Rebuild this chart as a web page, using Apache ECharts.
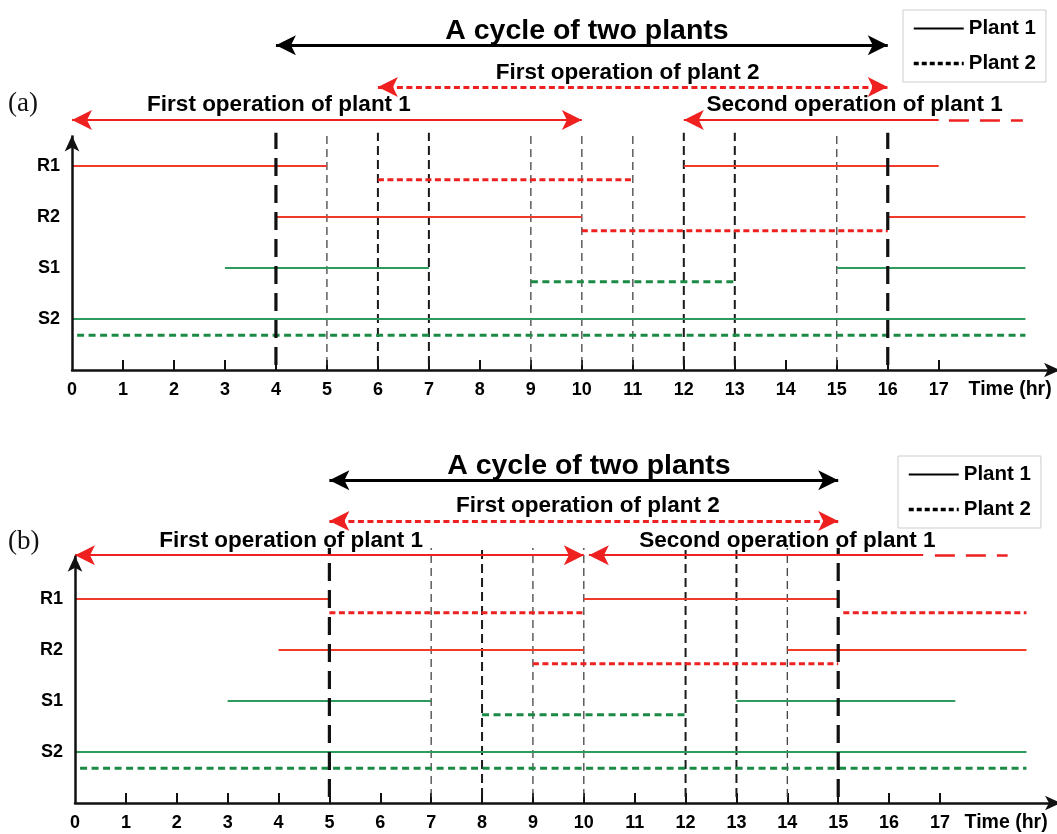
<!DOCTYPE html>
<html>
<head>
<meta charset="utf-8">
<script src="https://cdn.jsdelivr.net/npm/echarts@6/dist/echarts.min.js"></script>
<style>html,body{margin:0;padding:0;background:#fff}#c{width:1057px;height:834px}</style>
</head>
<body>
<div id="c"></div>
<script>
// ---------------- data ----------------
const tickLabels = [0,1,2,3,4,5,6,7,8,9,10,11,12,13,14,15,16,17];
const rowNames = ['S2','S1','R2','R1'];            // bottom -> top
const titleText = 'A cycle of two plants';
const op2Text = 'First operation of plant 2';
const op1Text = 'First operation of plant 1';
const op1SecondText = 'Second operation of plant 1';
const timeText = 'Time (hr)';
const legendNames = ['Plant 1','Plant 2'];

// panel (a)
const aPlant1 = [['R1',0,5],['R1',12,17],['R2',4,10],['R2',16,18.7],['S1',3,7],['S1',15,18.7],['S2',0,18.7]];
const aPlant2 = [['R1',6,11],['R2',10,16],['S1',9,13],['S2',0.1,18.7]];
const aVertHeavy = [4,16];
const aVertMedium = [6,7,12,13];
const aVertThin = [5,9,10,11,15];
const aCycle = [4,16];
const aOp2 = [6,16];
const aOp1 = [0,10];
const aOp1Second = [12,17];
const aOp1SecondCont = [17.2,18.65];

// panel (b)
const bPlant1 = [['R1',0,5],['R1',10,15],['R2',4,10],['R2',14,18.7],['S1',3,7],['S1',13,17.3],['S2',0,18.7]];
const bPlant2 = [['R1',5,10],['R1',15.1,18.7],['R2',9,15],['S1',8,12],['S2',0.1,18.7]];
const bVertHeavy = [5,15];
const bVertMedium = [8,12,13];
const bVertThin = [7,9,10,14];
const bCycle = [5,15];
const bOp2 = [5,15];
const bOp1 = [0,10];
const bOp1Second = [10.1,16.67];
const bOp1SecondCont = [16.9,18.33];

// ---------------- layout / style ----------------
const FONT = '"Liberation Sans", Arial, sans-serif';
const INK = '#000';
const RED = '#f03a2a', RED2 = '#ee2020', GREEN = '#2e9a5e', GREEN2 = '#1b8a45';
const XMAX = 19.3;
const panels = [
  {label:'(a)', labelTop:90, left:72, right:1, top:10, bottom:464,
   p1:aPlant1, p2:aPlant2, heavy:aVertHeavy, medium:aVertMedium, thin:aVertThin,
   cycle:aCycle, op2:aOp2, op1:aOp1, op1s:aOp1Second, op1c:aOp1SecondCont,
   yTitle:6.65, yCycle:6.37, yOp2T:5.83, yOp2:5.55, yOp1T:5.2, yOp1:4.9, yAxisTop:4.6, vTop:4.65, vBot:0.1,
   xTitle:10.1, xOp2T:10.9, xOp1T:4.06, xOp1sT:15.35, xTime:18.4,
   legend:{left:903, top:10}},
  {label:'(b)', labelTop:528, left:75, right:0, top:450, bottom:31,
   p1:bPlant1, p2:bPlant2, heavy:bVertHeavy, medium:bVertMedium, thin:bVertThin,
   cycle:bCycle, op2:bOp2, op1:bOp1, op1s:bOp1Second, op1c:bOp1SecondCont,
   yTitle:6.61, yCycle:6.33, yOp2T:5.83, yOp2:5.53, yOp1T:5.14, yOp1:4.86, yAxisTop:4.85, vTop:5.0, vBot:0.12,
   xTitle:10.1, xOp2T:10.08, xOp1T:4.25, xOp1sT:14.0, xTime:18.3,
   legend:{left:898, top:456}}
];

const H = 834;
const grids = [], xAxes = [], yAxes = [], series = [], legends = [], graphics = [];

function rowY(name){ return rowNames.indexOf(name) + 1; }

panels.forEach((p, i) => {
  const height = H - p.top - p.bottom;
  const ymax = height / 51;
  grids.push({left:p.left, right:p.right, top:p.top, bottom:p.bottom, containLabel:false});
  xAxes.push({
    type:'value', gridIndex:i, min:0, max:XMAX, interval:1,
    axisLine:{show:true, lineStyle:{color:'#111', width:2.5}, symbol:['none','arrow'], symbolSize:[11,16], symbolOffset:[0,4]},
    axisTick:{show:true, inside:true, length:10, lineStyle:{color:'#111', width:2}, customValues:tickLabels.slice(1)},
    axisLabel:{show:true, customValues:tickLabels, margin:11, color:INK, fontFamily:FONT, fontWeight:'bold', fontSize:18,
               formatter:v => String(v)},
    splitLine:{show:false}
  });
  yAxes.push({
    type:'value', gridIndex:i, min:0, max:ymax, interval:1,
    axisLine:{show:false}, axisTick:{show:false}, splitLine:{show:false},
    axisLabel:{show:true, margin:12, color:INK, fontFamily:FONT, fontWeight:'bold', fontSize:18,
               formatter:v => (Math.abs(v - Math.round(v)) < 1e-6 && rowNames[Math.round(v)-1]) ? rowNames[Math.round(v)-1] : ''}
  });

  const base = {xAxisIndex:i, yAxisIndex:i, type:'line', symbol:'none', silent:true, animation:false, clip:false, z:3};

  // vertical guide lines
  const vert = (xs, style, z) => xs.forEach(x => series.push(Object.assign({}, base, {
    z, data:[[x,p.vBot],[x,p.vTop]], lineStyle:style})));
  vert(p.thin, {color:'#444', width:1.3, type:[8,5]}, 2);
  vert(p.medium, {color:'#1a1a1a', width:2, type:[9,5]}, 2);
  vert(p.heavy, {color:'#111', width:3.2, type:[18,9]}, 4);

  // segments
  p.p1.forEach(s => {
    const c = (s[0][0]==='R') ? RED : GREEN;
    series.push(Object.assign({}, base, {data:[[s[1],rowY(s[0])],[s[2],rowY(s[0])]],
      lineStyle:{color:c, width:2, type:'solid'}}));
  });
  p.p2.forEach(s => {
    const c = (s[0][0]==='R') ? RED2 : GREEN2;
    const off = s[0]==='S2' ? 0.32 : 0.27;
    series.push(Object.assign({}, base, {data:[[s[1],rowY(s[0])-off],[s[2],rowY(s[0])-off]],
      lineStyle:{color:c, width:3, type:(s[0][0]==='R') ? [6,3.5] : [7,4.5]}}));
  });

  // arrows via markLine
  const ml = (x1, x2, y, style, sym, ssize) => ({
    silent:true, animation:false, symbol:sym, symbolSize:ssize,
    label:{show:false}, emphasis:{disabled:true},
    lineStyle:style, data:[[{coord:[x1,y]},{coord:[x2,y]}]]
  });
  const arrowSeries = (m) => series.push(Object.assign({}, base, {data:[], markLine:m}));
  arrowSeries(ml(p.cycle[0], p.cycle[1], p.yCycle, {color:'#000', width:3, type:'solid'}, ['arrow','arrow'], [15,20]));
  arrowSeries(ml(p.op2[0], p.op2[1], p.yOp2, {color:RED2, width:3, type:[6,3.5]}, ['arrow','arrow'], [15,20]));
  arrowSeries(ml(p.op1[0], p.op1[1], p.yOp1, {color:RED2, width:2.2, type:'solid'}, ['arrow','arrow'], [15,20]));
  arrowSeries(ml(p.op1s[0], p.op1s[1], p.yOp1, {color:RED2, width:2.2, type:'solid'}, ['arrow','none'], [15,20]));
  arrowSeries(ml(p.op1c[0], p.op1c[1], p.yOp1, {color:RED2, width:2.5, type:[20,11]}, ['none','none'], 1));
  // y axis arrow
  series.push(Object.assign({}, base, {data:[], markLine:{
    silent:true, animation:false, symbol:['none','arrow'], symbolSize:[11,16], label:{show:false}, emphasis:{disabled:true},
    lineStyle:{color:'#111', width:2.5, type:'solid'},
    data:[[{coord:[0,0]},{coord:[0,p.yAxisTop]}]]}}));

  // text annotations
  const txt = (x, y, t, size) => ({value:[x,y], name:t,
    label:{show:true, position:'inside', formatter:t, color:INK, textBorderWidth:0, textShadowBlur:0,
           fontFamily:FONT, fontWeight:'bold', fontSize:size}});
  series.push({type:'scatter', xAxisIndex:i, yAxisIndex:i, symbolSize:0, silent:true, animation:false, clip:false, z:6,
    itemStyle:{opacity:1, color:'#000'},
    data:[
      txt(p.xTitle, p.yTitle, titleText, 28.5),
      txt(p.xOp2T, p.yOp2T, op2Text, 22.5),
      txt(p.xOp1T, p.yOp1T, op1Text, 22.5),
      txt(p.xOp1sT, p.yOp1T, op1SecondText, 22.5),
      txt(p.xTime, -0.39, timeText, 19.5)
    ]});

  legends.push({
    data:[
      {name:legendNames[0], lineStyle:{width:2, type:'solid', color:'#000'}},
      {name:legendNames[1], lineStyle:{width:3.5, type:[5,3], color:'#000'}}
    ],
    orient:'vertical', left:p.legend.left, top:p.legend.top,
    itemWidth:50, itemHeight:16, itemGap:14, padding:[8,10,8,9],
    borderColor:'#ccc', borderWidth:1, backgroundColor:'#fff',
    selectedMode:false, itemStyle:{opacity:0},
    textStyle:{color:INK, fontFamily:FONT, fontWeight:'bold', fontSize:20.5}
  });
  graphics.push({type:'text', left:8, top:p.labelTop,
    style:{text:p.label, fontFamily:'"Liberation Serif", "Times New Roman", serif', fontSize:27, fill:'#111'}});
});

// legend carrier series
series.push({name:legendNames[0], type:'line', xAxisIndex:0, yAxisIndex:0, data:[], symbol:'none', showSymbol:false, color:'#000',
  lineStyle:{color:'#000', width:2, type:'solid'}});
series.push({name:legendNames[1], type:'line', xAxisIndex:0, yAxisIndex:0, data:[], symbol:'none', showSymbol:false, color:'#000',
  lineStyle:{color:'#000', width:3.5, type:[5,3]}});

const chart = echarts.init(document.getElementById('c'), null, {renderer:'canvas'});
chart.setOption({
  backgroundColor:'#fff', animation:false,
  grid:grids, xAxis:xAxes, yAxis:yAxes, legend:legends, series:series, graphic:graphics
});
</script>
</body>
</html>
